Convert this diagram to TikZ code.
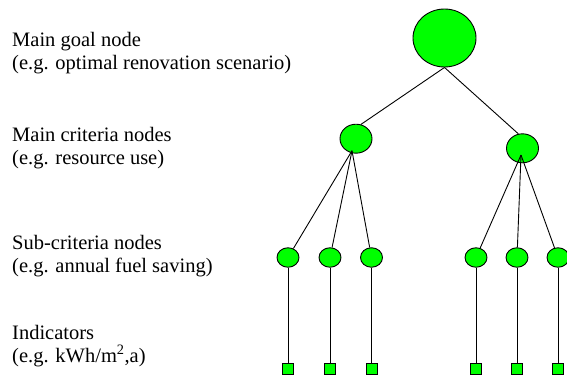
\documentclass[tikz,border=0pt]{standalone}
\usepackage{fontspec}
\setmainfont{Liberation Serif}
\usetikzlibrary{shapes.geometric,calc}
\begin{document}
\begin{tikzpicture}[x=1pt,y=-1pt,
  bignode/.style={ellipse,draw=black,line width=0.9pt,fill=green,minimum width=63pt,minimum height=58pt,inner sep=0pt},
  critnode/.style={ellipse,draw=black,line width=0.9pt,fill=green,minimum width=32pt,minimum height=29pt,inner sep=0pt},
  subnode/.style={ellipse,draw=black,line width=0.9pt,fill=green,minimum width=22pt,minimum height=19.5pt,inner sep=0pt},
  indnode/.style={rectangle,draw=black,line width=0.7pt,fill=green,minimum size=11pt,inner sep=0pt},
  edge/.style={draw=black,line width=0.9pt},
  lbl/.style={anchor=base west,inner sep=0pt,font=\rmfamily\fontsize{20.5pt}{23pt}\selectfont}]
\useasboundingbox (0,0) rectangle (567,378);
% nodes
\node[bignode] (goal) at (444.5,38) {};
\node[critnode] (c1) at (356,138.7) {};
\node[critnode] (c2) at (522.5,148.3) {};
\foreach \i/\x in {1/288,2/330,3/371.5,4/476,5/517,6/558}{
  \node[subnode] (s\i) at (\x,257.5) {};
  \node[indnode] (d\i) at (\x,368.5) {};
}
% connectors
\draw[edge] (goal.south) -- (c1.71);
\draw[edge] (goal.south) -- (c2.106);
\coordinate (c1b) at ($(c1.center)+(-4,12)$);
\coordinate (c2b) at ($(c2.center)+(-1.5,6.7)$);
\foreach \i in {1,2,3}{ \draw[edge] (c1b) -- (s\i); }
\foreach \i in {4,5,6}{ \draw[edge] (c2b) -- (s\i); }
\foreach \i in {1,...,6}{ \draw[edge] (s\i) -- (d\i); }
% labels
\node[lbl] (l1a) at (12,46) {Main goal node};
\node[lbl] (l1b) at (12,69) {(e.g. optimal renovation scenario)};
\node[lbl] (l2a) at (12,141) {Main criteria nodes};
\node[lbl] (l2b) at (12,164) {(e.g. resource use)};
\node[lbl] (l3a) at (12,249.5) {Sub-criteria nodes};
\node[lbl] (l3b) at (12,272.5) {(e.g. annual fuel saving)};
\node[lbl] (l4a) at (12,339) {Indicators};
\node[lbl] (l4b) at (12,362) {(e.g. kWh/m\textsuperscript{2},a)};
\end{tikzpicture}
\end{document}
